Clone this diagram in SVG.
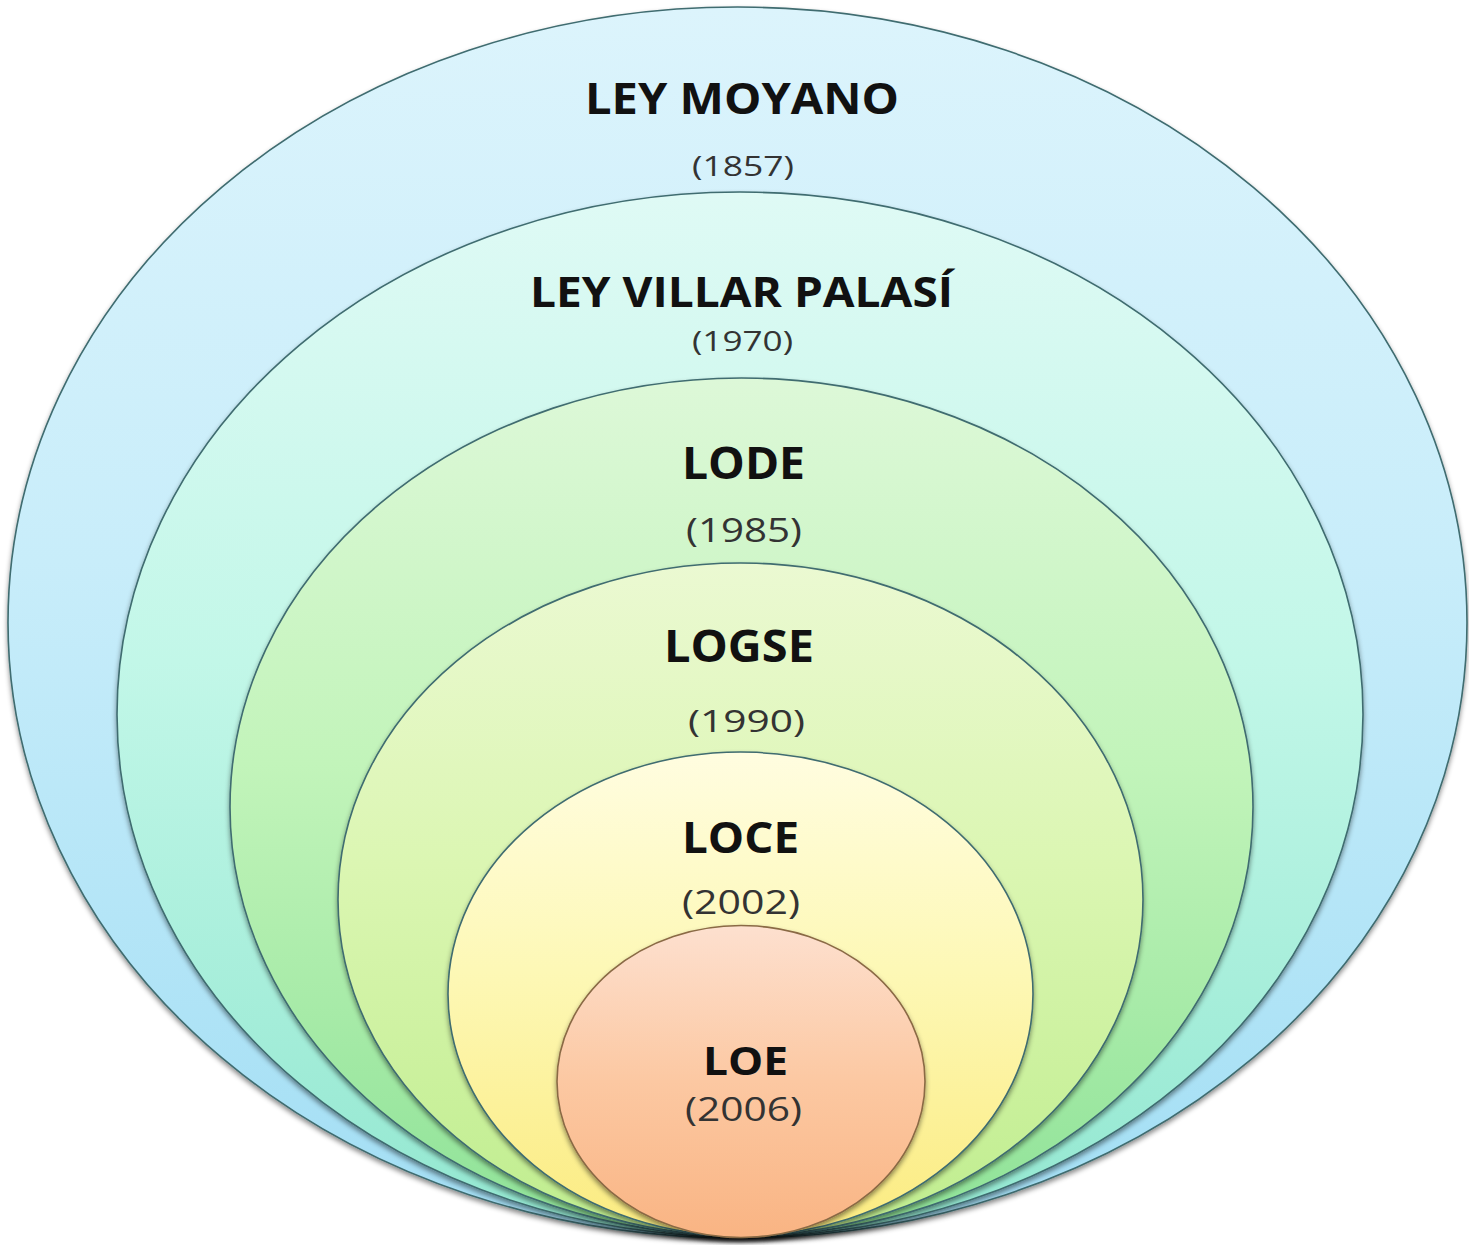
<svg xmlns="http://www.w3.org/2000/svg" width="1469" height="1245" viewBox="0 0 1469 1245">
<style>
.ring{stroke:#3f6c70;stroke-width:1.6;filter:url(#sh)}
.title{font-family:"Open Sans","Liberation Sans",sans-serif;font-weight:700;fill:#111;}
.year{font-family:"Open Sans","Liberation Sans",sans-serif;font-weight:400;fill:#333;}
</style>
<defs>
<filter id="sh" x="-5%" y="-5%" width="110%" height="112%">
<feDropShadow dx="0" dy="3" stdDeviation="2.5" flood-color="#000" flood-opacity="0.45"/>
</filter>
<linearGradient id="g1" x1="0" y1="0" x2="0" y2="1">
<stop offset="0" stop-color="#dcf4fc"/><stop offset="0.45" stop-color="#c8edfa"/><stop offset="1" stop-color="#a2def4"/>
</linearGradient>
<linearGradient id="g2" x1="0" y1="0" x2="0" y2="1">
<stop offset="0" stop-color="#dffaf5"/><stop offset="0.45" stop-color="#c2f7e8"/><stop offset="1" stop-color="#92e7d0"/>
</linearGradient>
<linearGradient id="g3" x1="0" y1="0" x2="0" y2="1">
<stop offset="0" stop-color="#ddf8d8"/><stop offset="0.45" stop-color="#c2f4ba"/><stop offset="1" stop-color="#8ee297"/>
</linearGradient>
<linearGradient id="g4" x1="0" y1="0" x2="0" y2="1">
<stop offset="0" stop-color="#ebf9d2"/><stop offset="0.45" stop-color="#dbf6b2"/><stop offset="1" stop-color="#bfed8e"/>
</linearGradient>
<linearGradient id="g5" x1="0" y1="0" x2="0" y2="1">
<stop offset="0" stop-color="#fffde0"/><stop offset="0.45" stop-color="#fdf8b6"/><stop offset="1" stop-color="#fbeb80"/>
</linearGradient>
<linearGradient id="g6" x1="0" y1="0" x2="0" y2="1">
<stop offset="0" stop-color="#fde0cf"/><stop offset="0.5" stop-color="#fcc8a2"/><stop offset="1" stop-color="#f9b483"/>
</linearGradient>
</defs>
<rect width="1469" height="1245" fill="#ffffff"/>
<g id="ley-moyano">
<ellipse class="ring" cx="737.5" cy="622.5" rx="729.5" ry="615.5" fill="url(#g1)"/>
<text class="title" x="585" y="114" font-size="43" textLength="314" lengthAdjust="spacingAndGlyphs">LEY MOYANO</text>
<text class="year" x="692" y="176" font-size="27" textLength="102" lengthAdjust="spacingAndGlyphs">(1857)</text>
</g>
<g id="ley-villar-palasi">
<ellipse class="ring" cx="740" cy="714.5" rx="623" ry="522.5" fill="url(#g2)"/>
<text class="title" x="530" y="307" font-size="42" textLength="423" lengthAdjust="spacingAndGlyphs">LEY VILLAR PALASÍ</text>
<text class="year" x="692" y="351" font-size="28" textLength="101" lengthAdjust="spacingAndGlyphs">(1970)</text>
</g>
<g id="lode">
<ellipse class="ring" cx="741.5" cy="807" rx="511.5" ry="429" fill="url(#g3)"/>
<text class="title" x="682" y="479" font-size="44" textLength="123" lengthAdjust="spacingAndGlyphs">LODE</text>
<text class="year" x="686" y="542" font-size="32" textLength="116" lengthAdjust="spacingAndGlyphs">(1985)</text>
</g>
<g id="logse">
<ellipse class="ring" cx="740.5" cy="899.5" rx="402.5" ry="336.5" fill="url(#g4)"/>
<text class="title" x="664" y="662" font-size="44" textLength="150" lengthAdjust="spacingAndGlyphs">LOGSE</text>
<text class="year" x="688" y="732" font-size="31" textLength="117" lengthAdjust="spacingAndGlyphs">(1990)</text>
</g>
<g id="loce">
<ellipse class="ring" cx="740.5" cy="994" rx="292.5" ry="242" fill="url(#g5)"/>
<text class="title" x="682" y="853" font-size="43" textLength="117" lengthAdjust="spacingAndGlyphs">LOCE</text>
<text class="year" x="682" y="914" font-size="32" textLength="118" lengthAdjust="spacingAndGlyphs">(2002)</text>
</g>
<g id="loe">
<ellipse class="ring" cx="741" cy="1081.5" rx="184" ry="156" fill="url(#g6)" style="stroke:#8a6a45"/>
<text class="title" x="703" y="1075" font-size="40" textLength="85" lengthAdjust="spacingAndGlyphs">LOE</text>
<text class="year" x="685" y="1121" font-size="32" textLength="117" lengthAdjust="spacingAndGlyphs">(2006)</text>
</g>
</svg>
